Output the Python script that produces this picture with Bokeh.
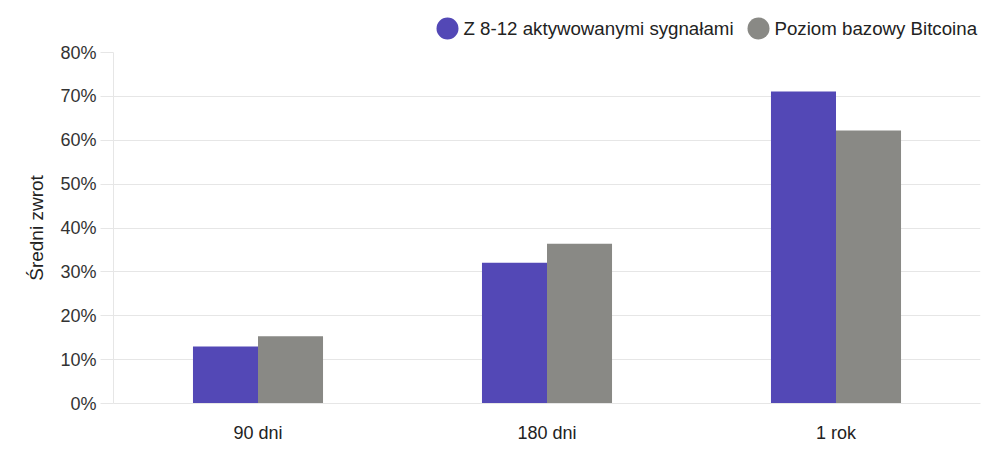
from bokeh.plotting import figure
from bokeh.models import ColumnDataSource, NumeralTickFormatter, FactorRange
from bokeh.layouts import column
from bokeh.transform import dodge
from bokeh.core.properties import value
from bokeh.embed import file_html
from bokeh.resources import INLINE

categories = ["90 dni", "180 dni", "1 rok"]
signals = [0.130, 0.321, 0.711]
baseline = [0.153, 0.364, 0.622]
series_names = ["Z 8-12 aktywowanymi sygnałami", "Poziom bazowy Bitcoina"]
colors = ["#5348b6", "#898985"]
y_ticks = [0, 0.1, 0.2, 0.3, 0.4, 0.5, 0.6, 0.7, 0.8]

FONT = "Liberation Sans"
W = 990
LEFT, RIGHT = 113, 10

# ---------- legend strip (its own small figure, laid out above the chart) ----------
# the column aligns this strip's frame with the chart's frame, so its x range
# spans the same pixel columns as the chart's frame
leg = figure(width=W, height=42, x_range=(LEFT, W - RIGHT), y_range=(0, 42),
             x_axis_location=None, y_axis_location=None,
             output_backend="svg", toolbar_location=None,
             min_border_left=LEFT, min_border_right=RIGHT, min_border_top=0, min_border_bottom=0)
leg.grid.visible = False
leg.outline_line_color = None
leg_src = ColumnDataSource(dict(x=[447, 758], y=[14, 14], tx=[463, 774],
                                label=series_names, color=colors))
leg.scatter(x="x", y="y", size=22, marker="circle", fill_color="color",
            line_color=None, source=leg_src)
leg.text(x="tx", y="y", text="label", source=leg_src, text_font=value(FONT),
         text_font_size="18.7px", text_color="#222222", text_baseline="middle",
         text_align="left")

# ---------- main chart ----------
src = ColumnDataSource(dict(cat=categories, signals=signals, baseline=baseline))

p = figure(x_range=FactorRange(*categories, range_padding=0), y_range=(0, 0.8),
           width=W, height=406, output_backend="svg", toolbar_location=None,
           min_border_left=LEFT, min_border_right=RIGHT, min_border_top=10, min_border_bottom=45)
p.outline_line_color = None

bw = 0.225
p.vbar(x=dodge("cat", -bw / 2, range=p.x_range), top="signals", width=bw, source=src,
       fill_color=colors[0], line_color=None)
p.vbar(x=dodge("cat", bw / 2, range=p.x_range), top="baseline", width=bw, source=src,
       fill_color=colors[1], line_color=None)

grid_col = "#e6e6e6"
p.xgrid.grid_line_color = None
p.ygrid.grid_line_color = grid_col
p.ygrid.ticker = y_ticks

p.yaxis.ticker = y_ticks
p.yaxis.formatter = NumeralTickFormatter(format="0%")
p.yaxis.axis_line_color = grid_col
p.yaxis.major_tick_line_color = grid_col
p.yaxis.major_tick_out = 13
p.yaxis.major_tick_in = 0
p.yaxis.minor_tick_line_color = None
p.yaxis.major_label_standoff = 4
p.yaxis.major_label_text_font = FONT
p.yaxis.major_label_text_font_size = "18px"
p.yaxis.major_label_text_color = "#333333"
p.yaxis.axis_label = "Średni zwrot"
p.yaxis.axis_label_text_font = FONT
p.yaxis.axis_label_text_font_size = "19px"
p.yaxis.axis_label_text_font_style = "normal"
p.yaxis.axis_label_text_color = "#222222"
p.yaxis.axis_label_standoff = 10

p.xaxis.axis_line_color = grid_col
p.xaxis.major_tick_line_color = None
p.xaxis.minor_tick_line_color = None
p.xaxis.major_label_standoff = 13
p.xaxis.major_label_text_font = FONT
p.xaxis.major_label_text_font_size = "18px"
p.xaxis.major_label_text_color = "#222222"

layout = column(leg, p, spacing=0)
open("out.html", "w").write(file_html(layout, INLINE))
